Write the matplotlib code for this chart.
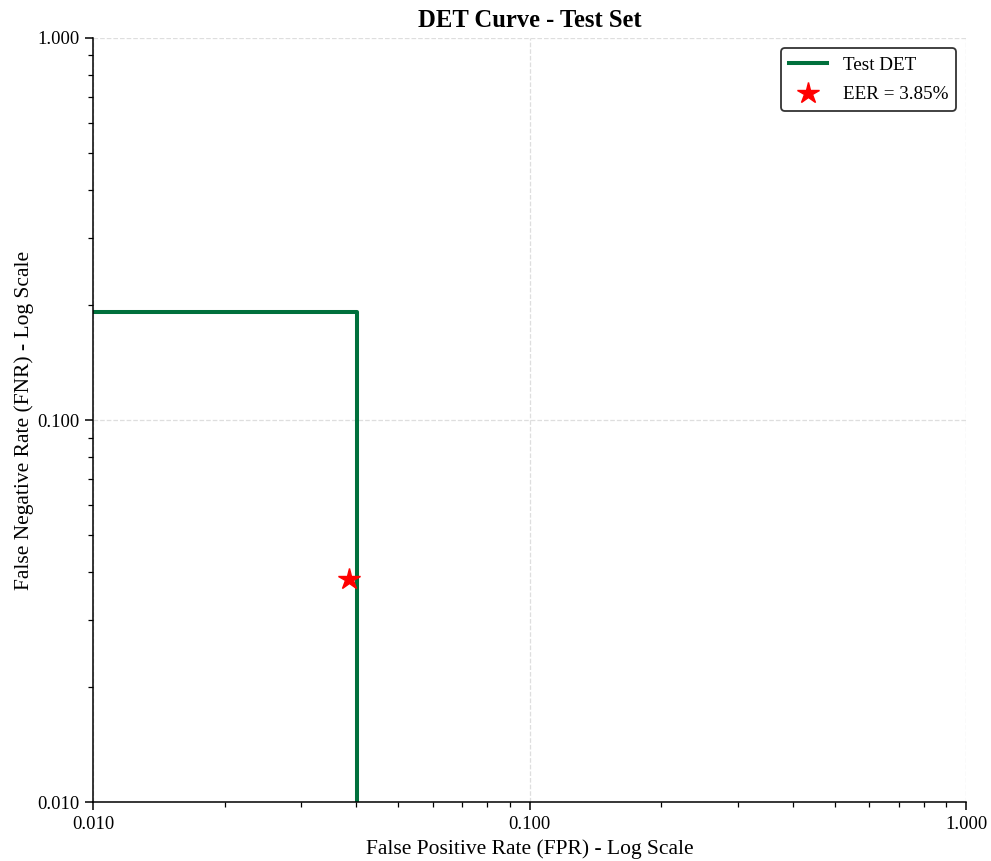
import numpy as np
import matplotlib.pyplot as plt
from matplotlib.ticker import FormatStrFormatter

plt.rcParams['font.family'] = ['Liberation Serif', 'DejaVu Serif']

# DET curve points (FPR, FNR)
fpr = [0.01, 0.0403, 0.0403]
fnr = [0.192, 0.192, 0.005]
eer = 0.0385

fig, ax = plt.subplots(figsize=(9.91, 8.61), dpi=100)
ax.plot(fpr, fnr, color='#00703c', linewidth=2.9, label='Test DET')
ax.plot([eer], [eer], marker='*', color='red', markersize=16, linestyle='none',
        label=f'EER = {eer*100:.2f}%')

ax.set_xscale('log')
ax.set_yscale('log')
ax.set_xlim(0.01, 1)
ax.set_ylim(0.01, 1)
ax.xaxis.set_major_formatter(FormatStrFormatter('%.3f'))
ax.yaxis.set_major_formatter(FormatStrFormatter('%.3f'))
ax.tick_params(which='major', labelsize=13.4, length=5.5, width=1.1, pad=4)
ax.tick_params(which='minor', length=3.3, width=0.9)
ax.grid(True, which='major', linestyle='--', color='#dedede', linewidth=0.9)
ax.spines['top'].set_visible(False)
ax.spines['right'].set_visible(False)
ax.spines['left'].set_linewidth(1.1)
ax.spines['bottom'].set_linewidth(1.1)

ax.set_xlabel('False Positive Rate (FPR) - Log Scale', fontsize=15.5, labelpad=5)
ax.set_ylabel('False Negative Rate (FNR) - Log Scale', fontsize=15.5, labelpad=2.5)
ax.set_title('DET Curve - Test Set', fontsize=17.7, fontweight='bold', pad=8)
leg = ax.legend(loc='upper right', fontsize=13.8, frameon=True, fancybox=True,
                edgecolor='#333333', borderaxespad=0.55, labelspacing=0.65)
leg.get_frame().set_linewidth(1.3)
leg.get_frame().set_alpha(1)

plt.subplots_adjust(left=0.094, right=0.975, bottom=0.068, top=0.956)
plt.savefig('out.png', dpi=100)
